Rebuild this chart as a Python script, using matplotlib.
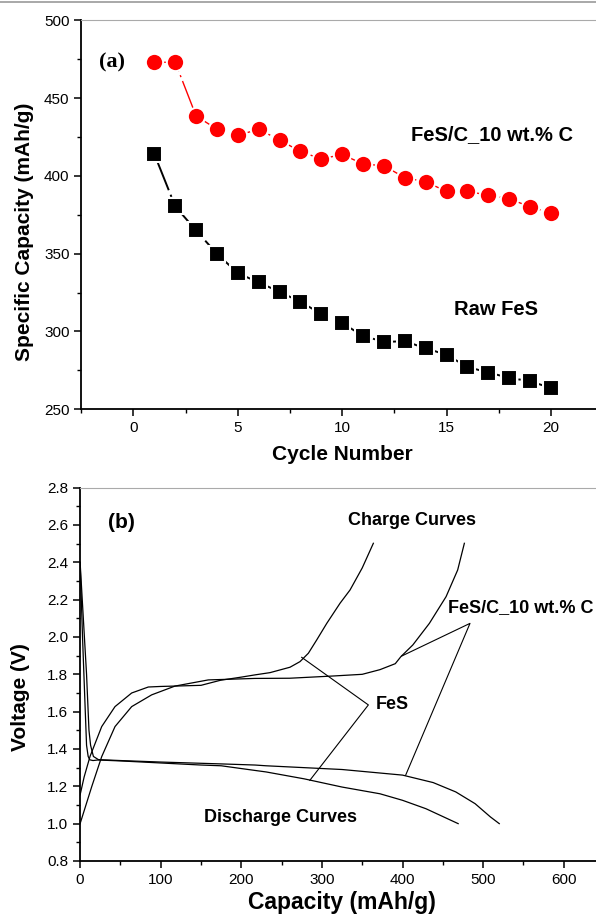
import numpy as np
import matplotlib
matplotlib.use('Agg')
import matplotlib.pyplot as plt
from matplotlib.lines import Line2D
from matplotlib.ticker import MultipleLocator, FormatStrFormatter

plt.rcParams['font.family'] = 'Liberation Sans'

# (a) cycling data
cycles = np.arange(1, 21)
cap_fes_c = [473, 473, 438.5, 430, 426, 430, 423, 415.7, 410.8, 413.8,
             407.6, 406.5, 398.8, 396.2, 390, 390, 387.6, 385.3, 380.1, 376.1]
cap_raw_fes = [414, 380.4, 364.9, 349.9, 337.5, 331.5, 325.5, 319, 311.3, 305.3,
               297.2, 293.3, 293.7, 289.2, 285, 277.2, 273.6, 270.2, 268, 263.7]

# (b) voltage profiles: capacity (mAh/g), voltage (V)
fes_chg_q = [0, 5, 12.3, 26.8, 43.3, 64, 84.6, 100, 117.7, 150, 174, 200, 217, 235.6,
             260.4, 272.8, 283.2, 293.5, 306, 322.5, 334.9, 350, 363.8]
fes_chg_v = [1.154, 1.25, 1.36, 1.52, 1.627, 1.70, 1.732, 1.735, 1.737, 1.741, 1.768, 1.785,
             1.797, 1.809, 1.838, 1.868, 1.913, 1.984, 2.073, 2.181, 2.252, 2.37, 2.502]

fesc_chg_q = [0, 14.4, 26.8, 43.3, 64, 88.8, 117.7, 159, 217, 260, 314, 350, 372, 391,
              398, 412.7, 433.3, 454, 468.4, 476.7]
fesc_chg_v = [1.0, 1.198, 1.359, 1.52, 1.627, 1.69, 1.737, 1.77, 1.778, 1.779, 1.791, 1.80,
              1.825, 1.857, 1.895, 1.957, 2.073, 2.216, 2.359, 2.502]

fes_dis_q = [0, 3, 6, 8, 10, 12, 16, 22, 50, 100, 150, 175, 217, 230.7, 278, 325, 372,
             400, 429, 469]
fes_dis_v = [2.4, 2.0, 1.65, 1.42, 1.36, 1.342, 1.338, 1.341, 1.336, 1.325, 1.314, 1.31,
             1.285, 1.277, 1.24, 1.196, 1.16, 1.125, 1.08, 1.0]

fesc_dis_q = [0, 4, 8, 11, 13, 16.5, 22.7, 50, 100, 175, 217, 230.7, 325, 400, 438, 466,
              490, 509, 520]
fesc_dis_v = [2.4, 2.1, 1.8, 1.5, 1.42, 1.36, 1.343, 1.338, 1.33, 1.32, 1.314, 1.31, 1.29,
              1.26, 1.22, 1.17, 1.107, 1.036, 1.0]

fig = plt.figure(figsize=(5.96, 9.17), dpi=100)
fig.add_artist(Line2D([0, 1], [0.998, 0.998], color='#999999', lw=1.2))

# ---------------- panel (a) ----------------
ax1 = fig.add_axes([0.1364, 0.5537, 0.8636, 0.4242])
ax1.plot(cycles, cap_fes_c, color='red', lw=1.0, ls=(0, (22, 3, 1.5, 3)),
         marker='o', ms=12.5, mfc='red', mec='white', mew=1.5)
ax1.plot(cycles, cap_raw_fes, color='black', lw=1.4, ls=(0, (20, 2.5, 1.2, 2.5)),
         marker='s', ms=11.2, mfc='black', mec='white', mew=1.5)
ax1.set_xlim(-2.5, 22.16)
ax1.set_ylim(250, 500)
ax1.xaxis.set_major_locator(MultipleLocator(5))
ax1.xaxis.set_minor_locator(MultipleLocator(2.5))
ax1.yaxis.set_major_locator(MultipleLocator(50))
ax1.yaxis.set_minor_locator(MultipleLocator(25))
ax1.text(-1.04, 473, '(a)', family='Liberation Serif', fontweight='bold', fontsize=16,
         ha='center', va='center')
ax1.text(17.17, 426.5, 'FeS/C_10 wt.% C', fontweight='bold', fontsize=14.5,
         ha='center', va='center')
ax1.text(17.37, 313.9, 'Raw FeS', fontweight='bold', fontsize=14.5,
         ha='center', va='center')
ax1.text(0.508, -0.117, 'Cycle Number', transform=ax1.transAxes, fontweight='bold',
         fontsize=15, ha='center', va='center')
ax1.text(-0.11, 0.456, 'Specific Capacity (mAh/g)', transform=ax1.transAxes,
         fontweight='bold', fontsize=15, ha='center', va='center', rotation=90)

# ---------------- panel (b) ----------------
ax2 = fig.add_axes([0.1344, 0.0611, 0.8656, 0.4071])
for q, v in [(fes_chg_q, fes_chg_v), (fesc_chg_q, fesc_chg_v),
             (fes_dis_q, fes_dis_v), (fesc_dis_q, fesc_dis_v)]:
    ax2.plot(q, v, color='black', lw=0.9)
ax2.plot([274.9, 357.6, 285], [1.891, 1.636, 1.232], color='black', lw=0.8)
ax2.plot([399, 483.7, 403.8], [1.898, 2.073, 1.259], color='black', lw=0.8)
ax2.set_xlim(0, 640)
ax2.set_ylim(0.8, 2.8)
ax2.xaxis.set_major_locator(MultipleLocator(100))
ax2.xaxis.set_minor_locator(MultipleLocator(50))
ax2.yaxis.set_major_locator(MultipleLocator(0.2))
ax2.yaxis.set_minor_locator(MultipleLocator(0.1))
ax2.yaxis.set_major_formatter(FormatStrFormatter('%.1f'))
ax2.text(51.6, 2.611, '(b)', fontweight='bold', fontsize=15, ha='center', va='center')
ax2.text(412, 2.625, 'Charge Curves', fontweight='bold', fontsize=13, ha='center', va='center')
ax2.text(248.6, 1.034, 'Discharge Curves', fontweight='bold', fontsize=13,
         ha='center', va='center')
ax2.text(367, 1.636, 'FeS', fontweight='bold', fontsize=13, ha='left', va='center')
ax2.text(456, 2.155, 'FeS/C_10 wt.% C', fontweight='bold', fontsize=13, ha='left', va='center')
ax2.text(0.508, -0.112, 'Capacity (mAh/g)', transform=ax2.transAxes, fontweight='bold',
         fontsize=16.5, ha='center', va='center')
ax2.text(-0.115, 0.44, 'Voltage (V)', transform=ax2.transAxes, fontweight='bold',
         fontsize=15, ha='center', va='center', rotation=90)

for ax in (ax1, ax2):
    ax.spines['right'].set_visible(False)
    ax.spines['top'].set_color('#aaaaaa')
    ax.spines['top'].set_linewidth(0.8)
    ax.spines['left'].set_linewidth(1.3)
    ax.spines['bottom'].set_linewidth(1.3)
    ax.tick_params(which='major', direction='out', length=5, width=1.1, labelsize=11,
                   top=False, right=False)
    ax.tick_params(which='minor', direction='out', length=3, width=1.0,
                   top=False, right=False)

fig.savefig('out.png', dpi=100)
